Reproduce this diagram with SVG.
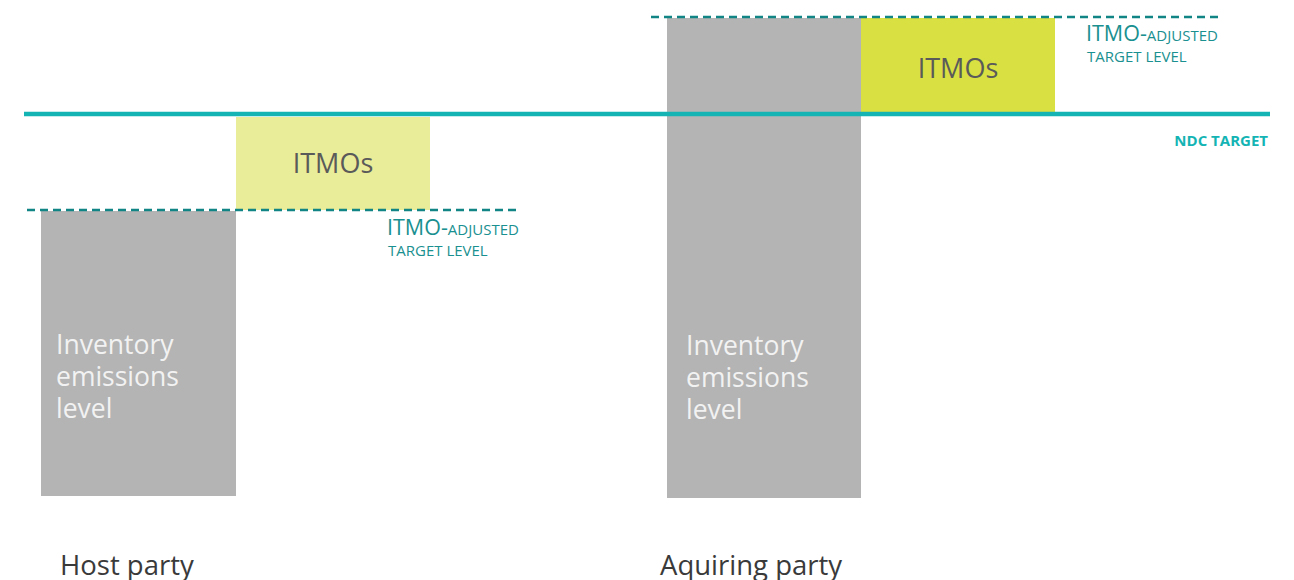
<svg xmlns="http://www.w3.org/2000/svg" width="1294" height="580" viewBox="0 0 1294 580">
<style>
text{font-family:"Open Sans","Liberation Sans",sans-serif}
.grey{fill:#b4b4b4}
.itmo{font-size:27px;fill:#5a5a5a;text-anchor:middle}
.inv{font-size:26.5px;fill:#f2f2f2}
.party{font-size:27.5px;fill:#3a3a3a}
.adj{fill:#1a9090;font-size:15px}
.big{font-size:21.5px}
.dash{stroke:#118585;stroke-width:2.5;stroke-dasharray:8,5;fill:none}
</style>
<rect width="1294" height="580" fill="#fff"/>
<g id="host-inventory">
<rect class="grey" x="41" y="211" width="195" height="285"/>
<text class="inv" x="56" y="354">Inventory</text>
<text class="inv" x="56" y="386">emissions</text>
<text class="inv" x="56" y="418">level</text>
</g>
<g id="host-itmos">
<rect x="236" y="117" width="194" height="93" fill="#e9ec98"/>
<text class="itmo" x="333" y="173">ITMOs</text>
</g>
<g id="acq-inventory">
<rect class="grey" x="667" y="18" width="194" height="480"/>
<text class="inv" x="686" y="355">Inventory</text>
<text class="inv" x="686" y="387">emissions</text>
<text class="inv" x="686" y="419">level</text>
</g>
<g id="acq-itmos">
<rect x="861" y="18" width="194" height="94" fill="#d8e042"/>
<text class="itmo" x="958" y="78">ITMOs</text>
</g>
<g id="lines">
<line x1="24" y1="114" x2="1270" y2="114" stroke="#14b4b4" stroke-width="4.5"/>
<line class="dash" x1="27" y1="210" x2="520" y2="210"/>
<line class="dash" x1="651" y1="17" x2="1218" y2="17"/>
</g>
<g id="labels">
<text class="adj" x="387" y="235"><tspan class="big">ITMO-</tspan>ADJUSTED</text>
<text class="adj" x="388" y="256">TARGET LEVEL</text>
<text class="adj" x="1086" y="41"><tspan class="big">ITMO-</tspan>ADJUSTED</text>
<text class="adj" x="1087" y="62">TARGET LEVEL</text>
<text x="1268" y="146" text-anchor="end" font-size="15" font-weight="bold" fill="#14b4b4">NDC TARGET</text>
<text class="party" x="60" y="575">Host party</text>
<text class="party" x="660" y="575">Aquiring party</text>
</g>
</svg>
